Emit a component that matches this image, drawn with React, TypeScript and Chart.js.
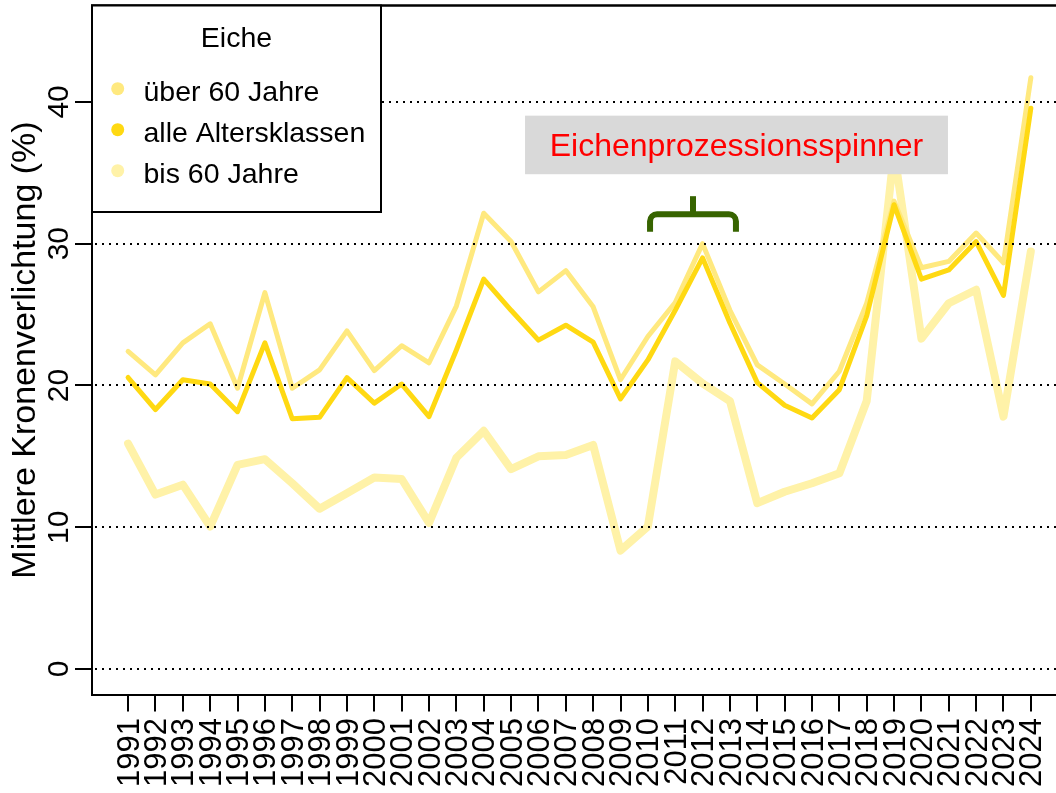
import React, { useEffect, useRef } from "react";
import { Chart, registerables } from "chart.js";

Chart.register(...registerables);

// ---------- data ----------
const years = [
  1991, 1992, 1993, 1994, 1995, 1996, 1997, 1998, 1999, 2000, 2001, 2002,
  2003, 2004, 2005, 2006, 2007, 2008, 2009, 2010, 2011, 2012, 2013, 2014,
  2015, 2016, 2017, 2018, 2019, 2020, 2021, 2022, 2023, 2024,
];

const seriesNames = ["über 60 Jahre", "alle Altersklassen", "bis 60 Jahre"];
const legendTitle = "Eiche";

const ueber60 = [
  22.4, 20.75, 23.0, 24.35, 19.8, 26.55, 19.8, 21.1, 23.85, 21.05, 22.8, 21.6,
  25.6, 32.15, 30.15, 26.6, 28.1, 25.55, 20.4, 23.45, 25.85, 30.0, 25.3, 21.45,
  20.1, 18.7, 21.0, 25.8, 33.0, 28.3, 28.75, 30.75, 28.65, 41.7,
];

const alleKlassen = [
  20.56, 18.3, 20.4, 20.1, 18.15, 23.0, 17.65, 17.75, 20.55, 18.75, 20.1, 17.8,
  22.5, 27.5, 25.3, 23.2, 24.25, 23.05, 19.05, 21.8, 25.3, 29.0, 24.4, 20.2,
  18.6, 17.7, 19.7, 24.9, 32.75, 27.5, 28.15, 30.15, 26.35, 39.55,
];

const bis60 = [
  15.9, 12.3, 13.0, 10.05, 14.4, 14.8, 13.1, 11.3, 12.4, 13.5, 13.4, 10.3,
  14.9, 16.8, 14.1, 15.0, 15.1, 15.8, 8.35, 10.05, 21.7, 20.15, 18.9, 11.7,
  12.5, 13.1, 13.8, 18.9, 36.5, 23.3, 25.8, 26.75, 17.8, 29.45,
];

const yTickValues = [0, 10, 20, 30, 40];
const yAxisTitle = "Mittlere Kronenverlichtung (%)";
const annotationText = "Eichenprozessionsspinner";

// ---------- styles ----------
const FONT = '"Liberation Sans", Arial, Helvetica, sans-serif';
const colUeber = "#FFE97F";
const colAlle = "#FFD912";
const colBis = "#FFF2A8";
const bracketColor = "#376400";

const W = 1056;
const H = 793;

const overlayPlugin = {
  id: "overlay",
  afterDatasetsDraw(chart: any) {
    const { ctx, chartArea, scales } = chart;
    const xs = scales.x;
    const ys = scales.y;
    ctx.save();

    // dotted grid lines on top of the lines
    ctx.strokeStyle = "#000";
    ctx.lineWidth = 2;
    ctx.setLineDash([2, 5]);
    for (const v of yTickValues) {
      const y = Math.round(ys.getPixelForValue(v));
      ctx.beginPath();
      ctx.moveTo(chartArea.left + 3, y);
      ctx.lineTo(chartArea.right, y);
      ctx.stroke();
    }
    ctx.setLineDash([]);

    // top border of the box
    ctx.lineWidth = 2.5;
    ctx.beginPath();
    ctx.moveTo(chartArea.left - 1, chartArea.top);
    ctx.lineTo(chartArea.right, chartArea.top);
    ctx.stroke();

    // annotation box
    const bx1 = xs.getPixelForValue(2005.51);
    const bx2 = xs.getPixelForValue(2020.97);
    const by1 = ys.getPixelForValue(39.03);
    const by2 = ys.getPixelForValue(34.9);
    ctx.fillStyle = "#D9D9D9";
    ctx.fillRect(bx1, by1, bx2 - bx1, by2 - by1);
    ctx.fillStyle = "#FF0000";
    ctx.font = `32px ${FONT}`;
    ctx.textAlign = "center";
    ctx.textBaseline = "alphabetic";
    ctx.fillText(annotationText, (bx1 + bx2) / 2, by1 + 40.5);

    // bracket
    const L = xs.getPixelForValue(2010.08);
    const R = xs.getPixelForValue(2013.22);
    const C = xs.getPixelForValue(2011.65);
    const hy = ys.getPixelForValue(32.07);
    const bot = ys.getPixelForValue(30.84);
    const top = ys.getPixelForValue(33.35);
    const r = 7;
    ctx.strokeStyle = bracketColor;
    ctx.lineWidth = 6;
    ctx.lineCap = "butt";
    ctx.beginPath();
    ctx.moveTo(L, bot);
    ctx.lineTo(L, hy + r);
    ctx.arcTo(L, hy, L + r, hy, r);
    ctx.lineTo(R - r, hy);
    ctx.arcTo(R, hy, R, hy + r, r);
    ctx.lineTo(R, bot);
    ctx.stroke();
    ctx.beginPath();
    ctx.moveTo(C, hy);
    ctx.lineTo(C, top);
    ctx.stroke();

    // legend box
    const lx1 = chartArea.left;
    const ly1 = chartArea.top;
    const lx2 = 381;
    const ly2 = 212;
    ctx.fillStyle = "#FFFFFF";
    ctx.fillRect(lx1, ly1, lx2 - lx1, ly2 - ly1);
    ctx.strokeStyle = "#000";
    ctx.lineWidth = 2;
    ctx.strokeRect(lx1, ly1, lx2 - lx1, ly2 - ly1);

    ctx.fillStyle = "#000";
    ctx.font = `28.5px ${FONT}`;
    ctx.textAlign = "center";
    ctx.fillText(legendTitle, 236.5, 46.7);

    const legendCols = [colUeber, colAlle, colBis];
    const baselines = [100.7, 141.7, 182.7];
    ctx.textAlign = "left";
    for (let i = 0; i < seriesNames.length; i++) {
      ctx.fillStyle = legendCols[i];
      ctx.beginPath();
      ctx.arc(117.7, baselines[i] - 12, 6.5, 0, Math.PI * 2);
      ctx.fill();
      ctx.fillStyle = "#000";
      ctx.fillText(seriesNames[i], 143.5, baselines[i]);
    }

    // axis labels
    ctx.fillStyle = "#000";
    const tfs = 31;
    ctx.font = `${tfs}px ${FONT}`;
    // x tick labels (rotated)
    for (const yr of years) {
      const x = xs.getPixelForValue(yr);
      ctx.save();
      ctx.translate(x + 0.358 * tfs - 0.5, 718);
      ctx.rotate(-Math.PI / 2);
      ctx.textAlign = "right";
      ctx.fillText(String(yr), 0, 0);
      ctx.restore();
    }
    // y tick labels (rotated)
    ctx.font = `30px ${FONT}`;
    for (const v of yTickValues) {
      const y = ys.getPixelForValue(v);
      ctx.save();
      ctx.translate(68.3, y);
      ctx.rotate(-Math.PI / 2);
      ctx.textAlign = "center";
      ctx.fillText(String(v), 0, 0);
      ctx.restore();
    }
    // y title
    ctx.save();
    ctx.font = `34px ${FONT}`;
    ctx.translate(35, (chartArea.top + chartArea.bottom) / 2);
    ctx.rotate(-Math.PI / 2);
    ctx.textAlign = "center";
    ctx.fillText(yAxisTitle, 0, 0);
    ctx.restore();

    ctx.restore();
  },
};

export default function App() {
  const ref = useRef<HTMLCanvasElement | null>(null);

  useEffect(() => {
    if (!ref.current) return;
    const toPts = (arr: number[]) => years.map((y, i) => ({ x: y, y: arr[i] }));
    const common = {
      pointRadius: 0,
      pointHoverRadius: 0,
      tension: 0,
      borderJoinStyle: "round" as const,
      borderCapStyle: "round" as const,
      fill: false,
    };
    const axisGrid = {
      drawOnChartArea: false,
      drawTicks: true,
      tickLength: 17,
      lineWidth: 2,
      color: "#000",
    };
    const chart = new Chart(ref.current, {
      type: "line",
      data: {
        datasets: [
          { ...common, label: seriesNames[2], data: toPts(bis60), borderColor: colBis, borderWidth: 8, order: 3 },
          { ...common, label: seriesNames[0], data: toPts(ueber60), borderColor: colUeber, borderWidth: 5, order: 2 },
          { ...common, label: seriesNames[1], data: toPts(alleKlassen), borderColor: colAlle, borderWidth: 5, order: 1 },
        ],
      },
      options: {
        responsive: false,
        animation: false,
        devicePixelRatio: 1,
        layout: { padding: { top: 5.5, left: 0, right: 0, bottom: 0 } },
        plugins: { legend: { display: false }, tooltip: { enabled: false } },
        events: [],
        scales: {
          x: {
            type: "linear",
            min: 1989.68,
            max: 2024.92,
            afterBuildTicks: (s: any) => {
              s.ticks = years.map((v) => ({ value: v }));
            },
            afterFit: (s: any) => {
              s.height = H - 694.5;
            },
            ticks: { display: false },
            grid: axisGrid,
            border: { display: true, color: "#000", width: 2 },
          },
          y: {
            type: "linear",
            min: -1.8,
            max: 46.8,
            afterBuildTicks: (s: any) => {
              s.ticks = yTickValues.map((v) => ({ value: v }));
            },
            afterFit: (s: any) => {
              s.width = 92;
            },
            ticks: { display: false },
            grid: axisGrid,
            border: { display: true, color: "#000", width: 2 },
          },
        },
      },
      plugins: [overlayPlugin],
    });
    return () => chart.destroy();
  }, []);

  return (
    <div style={{ position: "absolute", left: 0, top: 0, width: W, height: H, background: "#fff" }}>
      <canvas ref={ref} width={W} height={H} style={{ display: "block", width: W, height: H }} />
    </div>
  );
}
